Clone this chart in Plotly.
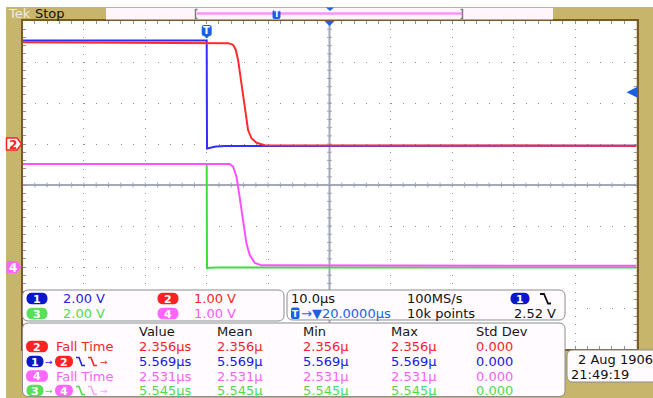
import plotly.graph_objects as go

W, H = 653, 398

# graticule placement on the screen (pixels)
GX0, GX1 = 22.5, 636.5
GY0, GY1 = 21.0, 349.0
N_HDIV, N_VDIV = 10, 8

# acquisition / display settings
time_per_div = 10.0          # us / div
trig_delay = 20.0            # us from trigger to screen centre
sample_rate = "100MS/s"
record_len = "10k points"
trig_source = "1"
trig_level = 2.52            # V

ch_ids = ["1", "2", "3", "4"]
ch_vdiv = [2.0, 1.0, 2.0, 1.0]          # V / div
ch_ground = [1, 1, -2, -2]              # ground level, divisions from centre
ch_trace_color = ["#2f2fff", "#ff2b2b", "#3fdc3f", "#ff50ff"]
ch_pill_color = ["#0816cc", "#ff2222", "#58e058", "#ff66ff"]
ch_text_color = ["#2424e6", "#f22626", "#4edc4e", "#f45cf4"]
marker_channels = ["2", "4"]

# captured waveforms: time (us) / volts
ch1_t = [-30.0, 0.0, 0.05, 0.5, 1.5, 3.0, 70.0]
ch1_v = [5.05, 5.05, -0.22, -0.18, -0.12, -0.10, -0.08]

ch2_t = [-30.0, 3.5, 4.29, 4.73, 5.11, 5.50, 5.92, 6.31, 6.74, 7.29, 8.11, 9.46, 70.0]
ch2_v = [2.48, 2.46, 2.42, 2.30, 2.05, 1.64, 1.15, 0.67, 0.34, 0.14, 0.03, -0.03, -0.04]

ch3_t = [-30.0, 0.0, 0.05, 0.4, 2.0, 70.0]
ch3_v = [5.02, 5.02, -0.06, -0.04, -0.02, -0.02]

ch4_t = [-30.0, 3.75, 4.29, 4.85, 5.27, 5.66, 6.04, 6.48, 7.01, 7.83, 8.92, 70.0]
ch4_v = [2.51, 2.51, 2.45, 2.20, 1.80, 1.39, 0.98, 0.57, 0.29, 0.10, 0.04, 0.03]

waves = [(ch1_t, ch1_v), (ch2_t, ch2_v), (ch3_t, ch3_v), (ch4_t, ch4_v)]

# measurement table
meas_headers = ["Value", "Mean", "Min", "Max", "Std Dev"]
meas_kind = ["Fall Time", "delay", "Fall Time", "delay"]
meas_src = [["2"], ["1", "2"], ["4"], ["3", "4"]]
meas_value = [2.356, 5.569, 2.531, 5.545]
meas_mean = [2.356, 5.569, 2.531, 5.545]
meas_min = [2.356, 5.569, 2.531, 5.545]
meas_max = [2.356, 5.569, 2.531, 5.545]
meas_std = [0.000, 0.000, 0.000, 0.000]
meas_row_color = ["#f22626", "#1818e6", "#f566f5", "#4edc4e"]

date_text = "2 Aug 1906"
time_text = "21:49:19"

FONT = "DejaVu Sans"
TAN = "#c6b56b"
BROWN = "#7a5a2c"
GRID = "#8a90a8"
CROSS = "#a4a8b8"
BOX_FILL = "#fffbfe"
BOX_LINE = "#8c8c8c"
MARK_BLUE = "#1a5fe4"

t_left = trig_delay - N_HDIV / 2 * time_per_div
t_right = trig_delay + N_HDIV / 2 * time_per_div


def ch_range(i):
    g, s = ch_ground[i], ch_vdiv[i]
    return [(-N_VDIV / 2 - g) * s, (N_VDIV / 2 - g) * s]


def fx(x):
    return x / W


def fy(y):
    return 1 - y / H


def t2px(t):
    return GX0 + (t - t_left) / (t_right - t_left) * (GX1 - GX0)


def div2py(d):
    return (GY0 + GY1) / 2 - d * (GY1 - GY0) / N_VDIV


def pt(x, y):
    return f"{fx(x):.5f},{fy(y):.5f}"


def rrect(x0, y0, x1, y1, r):
    return (f"M{pt(x0 + r, y0)} L{pt(x1 - r, y0)} Q{pt(x1, y0)} {pt(x1, y0 + r)} "
            f"L{pt(x1, y1 - r)} Q{pt(x1, y1)} {pt(x1 - r, y1)} "
            f"L{pt(x0 + r, y1)} Q{pt(x0, y1)} {pt(x0, y1 - r)} "
            f"L{pt(x0, y0 + r)} Q{pt(x0, y0)} {pt(x0 + r, y0)} Z")


def poly(points, close=True):
    s = "M" + " L".join(pt(x, y) for x, y in points)
    return s + (" Z" if close else "")


shapes = []
annotations = []


def add_rect(x0, y0, x1, y1, fill, layer="above"):
    shapes.append(dict(type="rect", xref="paper", yref="paper",
                       x0=fx(x0), x1=fx(x1), y0=fy(y1), y1=fy(y0),
                       fillcolor=fill, line=dict(width=0), layer=layer))


def add_path(path, fill=None, line_color=None, width=0, layer="above"):
    d = dict(type="path", xref="paper", yref="paper", path=path, layer=layer,
             line=dict(width=width, color=line_color or "rgba(0,0,0,0)"))
    if fill:
        d["fillcolor"] = fill
    shapes.append(d)


def add_text(x, y, s, color="#111111", size=13, anchor="left", bold=False):
    annotations.append(dict(
        xref="paper", yref="paper", x=fx(x), y=fy(y), text=f"<b>{s}</b>" if bold else s,
        showarrow=False, xanchor=anchor, yanchor="middle",
        font=dict(family=FONT, size=size, color=color), borderpad=0))


def add_pill(cx, cy, label, color, w=21, h=11.5):
    add_path(rrect(cx - w / 2, cy - h / 2, cx + w / 2, cy + h / 2, h / 2), fill=color)
    add_text(cx, cy + 0.5, label, "#ffffff", 11, anchor="center", bold=True)


def add_fall_glyph(x, yc, color):
    add_path(poly([(x, yc - 4), (x + 3, yc - 4), (x + 6, yc + 4), (x + 9, yc + 4)], close=False),
             line_color=color, width=1.6)


# ---- frame around the graticule ----
add_rect(6, 7, W, GY0, TAN, "below")
add_rect(6, 7, GX0, H, TAN, "below")
add_rect(GX1, 7, W, H, TAN, "below")
add_rect(6, GY1, W, H, TAN, "below")

# centre cross with 1/5 division ticks (ch1 volts on the y axis)
r1 = ch_range(0)
v_mid = (r1[0] + r1[1]) / 2
t_mid = (t_left + t_right) / 2
v_per_px = (r1[1] - r1[0]) / (GY1 - GY0)
t_per_px = (t_right - t_left) / (GX1 - GX0)
shapes.append(dict(type="line", xref="x", yref="y", x0=t_left, x1=t_right, y0=v_mid, y1=v_mid,
                   line=dict(color=CROSS, width=2), layer="below"))
shapes.append(dict(type="line", xref="x", yref="y", x0=t_mid, x1=t_mid, y0=r1[0], y1=r1[1],
                   line=dict(color=CROSS, width=2), layer="below"))
for k in range(N_HDIV * 5 + 1):
    tk = t_left + k * time_per_div / 5
    shapes.append(dict(type="line", xref="x", yref="y", x0=tk, x1=tk,
                       y0=v_mid - 2.5 * v_per_px, y1=v_mid + 2.5 * v_per_px,
                       line=dict(color=CROSS, width=1), layer="below"))
for k in range(N_VDIV * 5 + 1):
    vk = r1[0] + k * ch_vdiv[0] / 5
    shapes.append(dict(type="line", xref="x", yref="y", y0=vk, y1=vk,
                       x0=t_mid - 2.5 * t_per_px, x1=t_mid + 2.5 * t_per_px,
                       line=dict(color=CROSS, width=1), layer="below"))

# status bar
add_text(7, 13.5, "Tek", "#efede2", 13)
add_text(34, 13.5, "Stop", "#101010", 13)
add_rect(106, 8, 553, 19.5, "#fff6fc")
add_path(poly([(197, 13.5), (462, 13.5)], close=False), line_color="#ff92ff", width=2.5)
for bx, sgn in [(195.5, 1), (462.5, -1)]:
    add_path(poly([(bx + 2 * sgn, 9.5), (bx, 9.5), (bx, 18.5), (bx + 2 * sgn, 18.5)], close=False),
             line_color="#7c7c7c", width=1.5)
add_path(rrect(272.5, 10, 280.5, 19, 2), fill=MARK_BLUE)
add_text(276.5, 14.7, "T", "#ffffff", 8, anchor="center", bold=True)
add_path(poly([(326, 7.5), (334, 7.5), (330, 11)]), fill=MARK_BLUE)

# trigger position and horizontal centre markers
tx = t2px(0.0)
add_path(rrect(tx - 5, 25, tx + 5, 36, 2.5), fill=MARK_BLUE)
add_path(poly([(tx - 3, 35.5), (tx + 3, 35.5), (tx, 38.5)]), fill=MARK_BLUE)
add_text(tx, 30.8, "T", "#ffffff", 10, anchor="center", bold=True)
cx = t2px(trig_delay)
add_path(poly([(cx - 5, GY0), (cx + 5, GY0), (cx, GY0 + 5)]), fill=MARK_BLUE)

# channel ground markers on the left edge
for ch in marker_channels:
    i = ch_ids.index(ch)
    yg = div2py(ch_ground[i])
    shape_pts = [(6.5, yg - 6), (17, yg - 6), (21.5, yg), (17, yg + 6), (6.5, yg + 6)]
    if ch == "2":
        add_path(poly(shape_pts), fill="#ffffff", line_color=ch_pill_color[i], width=1.5)
        add_text(13, yg + 0.5, ch, ch_pill_color[i], 12, anchor="center", bold=True)
    else:
        add_path(poly(shape_pts), fill=ch_pill_color[i])
        add_text(13, yg + 0.5, ch, "#ffffff", 12, anchor="center", bold=True)

# trigger level arrow on the right edge (ch1 axis)
annotations.append(dict(
    xref="paper", yref="y", x=fx(626.5), y=trig_level, text="", showarrow=True,
    ax=10, ay=0, arrowhead=2, arrowsize=1.1, arrowwidth=2, arrowcolor=MARK_BLUE))

# ---- readout boxes ----
box_specs = [(22.5, 290, 284, 321), (287, 290, 565, 320), (22.5, 323, 565, 396.5), (567, 350, 662, 382)]
for x0, y0, x1, y1 in box_specs:
    add_path(rrect(x0, y0, x1, y1, 6), fill=BOX_FILL, line_color=BOX_LINE, width=1)

# channel scales: channels 1,2 on the first row, 3,4 on the second
row_y = [298.5, 313.5]
col_x = [37, 168]
for i, ch in enumerate(ch_ids):
    r, c = i // 2, i % 2
    add_pill(col_x[c], row_y[r], ch, ch_pill_color[i])
    add_text(col_x[c] + 25, row_y[r], f"{ch_vdiv[i]:.2f} V", ch_text_color[i], 13)

# timebase / trigger readout
add_text(290, 298.5, f"{time_per_div:.1f}µs", "#111111", 13)
add_text(406, 298.5, sample_rate, "#111111", 13)
add_pill(520, 298.5, trig_source, ch_pill_color[0], w=19)
add_path(poly([(540, 294), (544, 294), (548, 303.5), (551, 303.5)], close=False),
         line_color="#111111", width=1.8)
add_path(rrect(291, 307.5, 299.5, 319, 2), fill=MARK_BLUE)
add_text(295.3, 313.6, "T", "#ffffff", 9, anchor="center", bold=True)
add_text(300, 313.5, f"→▼{trig_delay:.4f}µs", "#1c62e2", 13)
add_text(406, 313.5, record_len, "#111111", 13)
add_text(557, 313.5, f"{trig_level:.2f} V", "#111111", 13, anchor="right")

# measurement table
head_x = [138, 216, 302, 390, 475]
for hx, htxt in zip(head_x, meas_headers):
    add_text(hx, 331.5, htxt, "#161616", 13)
meas_y = [346.5, 361.5, 376, 390.5]
for k in range(4):
    y = meas_y[k]
    col = meas_row_color[k]
    if meas_kind[k] == "Fall Time":
        ci = ch_ids.index(meas_src[k][0])
        add_pill(37, y, meas_src[k][0], ch_pill_color[ci], w=22)
        add_text(55, y, "Fall Time", col, 13)
    else:
        a, b = (ch_ids.index(c) for c in meas_src[k])
        add_pill(35, y, meas_src[k][0], ch_pill_color[a], w=17)
        add_text(49, y, "→", ch_text_color[a], 9, anchor="center")
        add_pill(64, y, meas_src[k][1], ch_pill_color[b], w=18)
        edge_b = ch_text_color[b] if k == 1 else "#f4a6f4"
        add_fall_glyph(76, y, ch_text_color[a])
        add_fall_glyph(88, y, edge_b)
        add_text(104, y, "→", edge_b, 9, anchor="center")
    add_text(head_x[0], y, f"{meas_value[k]:.3f}µs", col, 13)
    add_text(head_x[1], y, f"{meas_mean[k]:.3f}µ", col, 13)
    add_text(head_x[2], y, f"{meas_min[k]:.3f}µ", col, 13)
    add_text(head_x[3], y, f"{meas_max[k]:.3f}µ", col, 13)
    add_text(head_x[4], y, f"{meas_std[k]:.3f}", col, 13)

# date / time
add_text(577, 359, date_text, "#111111", 13)
add_text(570, 374, time_text, "#111111", 13)

# ---- traces: ch1 on the main axes, the others on overlaid axes ----
fig = go.Figure()
for i, (t, v) in enumerate(waves):
    fig.add_trace(go.Scatter(
        x=t, y=v, mode="lines", xaxis="x", yaxis="y" if i == 0 else f"y{i + 1}",
        line=dict(color=ch_trace_color[i], width=2), hoverinfo="skip", showlegend=False))

dx_minor = (GX1 - GX0) / N_HDIV / 5
dy_minor = (GY1 - GY0) / N_VDIV / 5

layout = dict(
    width=W, height=H, margin=dict(l=0, r=0, t=0, b=0),
    paper_bgcolor="#ffffff", plot_bgcolor="#ffffff", showlegend=False,
    shapes=shapes, annotations=annotations,
    xaxis=dict(domain=[fx(GX0), fx(GX1)], range=[t_left, t_right],
               dtick=time_per_div, tick0=t_left,
               showgrid=True, gridcolor=GRID, gridwidth=1, griddash=f"1px,{dy_minor - 1:.2f}px",
               zeroline=False, showline=True, linecolor=BROWN, linewidth=2, mirror="ticks",
               ticks="inside", ticklen=3, tickcolor=GRID, showticklabels=False,
               minor=dict(dtick=time_per_div / 5, tick0=t_left, ticks="inside", ticklen=3,
                          tickcolor=GRID, showgrid=False),
               fixedrange=True),
    yaxis=dict(domain=[fy(GY1), fy(GY0)], range=r1,
               dtick=ch_vdiv[0], tick0=r1[0],
               showgrid=True, gridcolor=GRID, gridwidth=1, griddash=f"1px,{dx_minor - 1:.2f}px",
               zeroline=False, showline=True, linecolor=BROWN, linewidth=2, mirror="ticks",
               ticks="inside", ticklen=3, tickcolor=GRID, showticklabels=False,
               minor=dict(dtick=ch_vdiv[0] / 5, tick0=r1[0], ticks="inside", ticklen=3,
                          tickcolor=GRID, showgrid=False),
               fixedrange=True),
)
for i in range(1, 4):
    layout[f"yaxis{i + 1}"] = dict(overlaying="y", range=ch_range(i), visible=False, fixedrange=True)

fig.update_layout(**layout)
fig.write_html("out.html")
